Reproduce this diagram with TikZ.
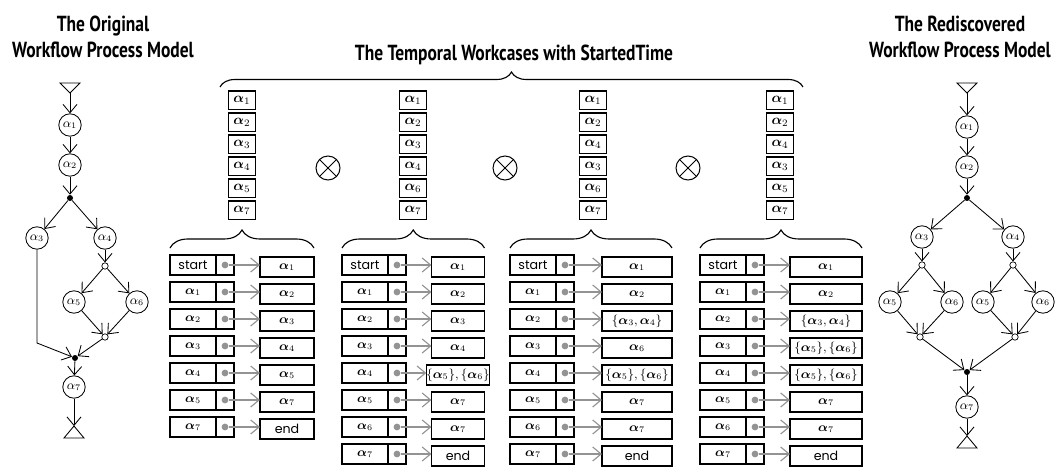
\documentclass[tikz,border=0pt]{standalone}
\usepackage{fontspec}
\usepackage{bm}
\setmainfont{PT Sans}
\newfontfamily\titlefont[FakeStretch=0.8]{PT Sans Bold}
\newfontfamily\cellfont{Poppins}
\usetikzlibrary{arrows.meta,positioning,decorations.pathreplacing}
\newcommand{\alp}[1]{$\bm{\alpha}_{#1}$}

\begin{document}
\begin{tikzpicture}[
    x=0.025cm, y=-0.025cm,
    >={Straight Barb[length=6pt,width=10pt]},
    title/.style={font=\titlefont\fontsize{15.5}{19}\selectfont, align=center},
    act/.style={draw, circle, line width=0.6pt, minimum size=0.56cm, inner sep=0pt, font=\small},
    andnode/.style={circle, fill=black, minimum size=0.15cm, inner sep=0pt},
    ornode/.style={circle, draw, fill=white, line width=0.5pt, minimum size=0.16cm, inner sep=0pt},
    flow/.style={->, line width=0.6pt},
    stack/.style={draw, line width=1pt, minimum width=0.675cm, minimum height=0.46cm, inner sep=0pt, font=\fontsize{10}{11}\selectfont},
    prod/.style={draw, circle, line width=0.7pt, minimum size=0.6cm, inner sep=0pt},
    cell/.style={draw, line width=0.8pt, minimum width=#1, minimum height=0.5cm, inner sep=0pt, outer sep=0pt, font=\cellfont\fontsize{9}{10}\selectfont},
    cell/.default=1.15cm,
    pin/.style={circle, fill=gray!85, minimum size=0.17cm, inner sep=0pt},
    link/.style={->, gray!85, line width=0.8pt},
    grp/.style={decorate, decoration={brace, amplitude=#1}, line width=0.8pt}
  ]
    \useasboundingbox (0,0) rectangle (1055,467);

    % titles
    \node[title] (lefttitle) at (103,37) {The Original\\Workflow Process Model};
    \node[title] (righttitle) at (960,37) {The Rediscovered\\Workflow Process Model};
    \node[title] (midtitle) at (514,55) {The Temporal Workcases with StartedTime};

    % the original model
    \coordinate (ltop) at (70,93);
    \draw[line width=0.6pt] (ltop) -- ++(-10,-10) -- ++(20,0) -- cycle;
    \node[act] (la1) at (70,125) {$\alpha_1$};
    \node[act] (la2) at (70,165) {$\alpha_2$};
    \node[andnode] (lj1) at (70,198) {};
    \node[act] (la3) at (37,238) {$\alpha_3$};
    \node[act] (la4) at (105,238) {$\alpha_4$};
    \node[ornode] (lo1) at (105,266) {};
    \node[act] (la5) at (74,302) {$\alpha_5$};
    \node[act] (la6) at (137,302) {$\alpha_6$};
    \node[ornode] (lo2) at (105,337) {};
    \node[andnode] (lj2) at (75,358) {};
    \node[act] (la7) at (74,387) {$\alpha_7$};
    \coordinate (lend) at (74,426);
    \draw[line width=0.6pt] (lend) -- ++(-10,12) -- ++(20,0) -- cycle;
    \coordinate (lbend) at (37,343);

    \draw[flow] (ltop) -- (la1);
    \draw[flow] (la1) -- (la2);
    \draw[flow] (la2) -- (lj1);
    \draw[flow] (lj1) -- (la3);
    \draw[flow] (lj1) -- (la4);
    \draw[flow] (la4) -- (lo1);
    \draw[flow] (lo1) -- (la5);
    \draw[flow] (lo1) -- (la6);
    \draw[flow] (la5) -- (lo2);
    \draw[flow] (la6) -- (lo2);
    \draw[flow] (lo2) -- (lj2);
    \draw[flow] (la3) -- (lbend) -- (lj2);
    \draw[flow] (lj2) -- (la7);
    \draw[flow] (la7) -- (lend);

    % the rediscovered model
    \coordinate (rtop) at (967,93);
    \draw[line width=0.6pt] (rtop) -- ++(-10,-10) -- ++(20,0) -- cycle;
    \node[act] (ra1) at (967,127) {$\alpha_1$};
    \node[act] (ra2) at (967,167) {$\alpha_2$};
    \node[andnode] (rj1) at (967,198) {};
    \node[act] (ra3) at (922,237) {$\alpha_3$};
    \node[act] (ra4) at (1013,237) {$\alpha_4$};
    \node[ornode] (ro1) at (922,265) {};
    \node[ornode] (ro2) at (1013,265) {};
    \node[act] (ra5) at (890,302) {$\alpha_5$};
    \node[act] (ra6) at (952,302) {$\alpha_6$};
    \node[act] (rb5) at (983,302) {$\alpha_5$};
    \node[act] (rb6) at (1043,302) {$\alpha_6$};
    \node[ornode] (ro3) at (920,337) {};
    \node[ornode] (ro4) at (1015,337) {};
    \node[andnode] (rj2) at (967,372) {};
    \node[act] (ra7) at (967,407) {$\alpha_7$};
    \coordinate (rend) at (967,436);
    \draw[line width=0.6pt] (rend) -- ++(-10,12) -- ++(20,0) -- cycle;

    \draw[flow] (rtop) -- (ra1);
    \draw[flow] (ra1) -- (ra2);
    \draw[flow] (ra2) -- (rj1);
    \draw[flow] (rj1) -- (ra3);
    \draw[flow] (rj1) -- (ra4);
    \draw[flow] (ra3) -- (ro1);
    \draw[flow] (ra4) -- (ro2);
    \draw[flow] (ro1) -- (ra5);
    \draw[flow] (ro1) -- (ra6);
    \draw[flow] (ro2) -- (rb5);
    \draw[flow] (ro2) -- (rb6);
    \draw[flow] (ra5) -- (ro3);
    \draw[flow] (ra6) -- (ro3);
    \draw[flow] (rb5) -- (ro4);
    \draw[flow] (rb6) -- (ro4);
    \draw[flow] (ro3) -- (rj2);
    \draw[flow] (ro4) -- (rj2);
    \draw[flow] (rj2) -- (ra7);
    \draw[flow] (ra7) -- (rend);

    % temporal workcases
    \draw[grp=0.375cm] (220,87) -- (803,87);
    \foreach \c/\x/\list in {1/242/{1,2,3,4,5,7}, 2/413/{1,2,3,4,6,7}, 3/593/{1,2,4,3,6,7}, 4/780/{1,2,4,3,5,7}} {
      \foreach \k [count=\n] in \list {
        \node[stack] (s\c-\n) at (\x,{78+22*\n}) {\alp{\k}};
      }
    }
    \foreach \p/\x in {1/328, 2/505, 3/688} {
      \node[prod] (x\p) at (\x,168) {};
      \draw[line width=0.7pt] (x\p.45) -- (x\p.225) (x\p.135) -- (x\p.315);
    }

    % workcase 1
    \foreach \i/\src/\dst in {1/start/\alp1, 2/\alp1/\alp2, 3/\alp2/\alp3, 4/\alp3/\alp4, 5/\alp4/\alp5, 6/\alp5/\alp7, 7/\alp7/end} {
      \node[cell] (t1l\i) at (193,{238+27*\i}) {\src};
      \node[cell=0.45cm, right=0pt of t1l\i] (t1d\i) {};
      \node[pin] (t1p\i) at (t1d\i) {};
      \node[cell=1.35cm] (t1r\i) at (287,{240+27*\i}) {\dst};
      \draw[link] (t1p\i) -- (t1p\i -| t1r\i.west);
    }
    \draw[grp=0.45cm] ([yshift=0.175cm]t1l1.north west) -- ([yshift=0.175cm]t1l1.north west -| t1r1.east);

    % workcase 2
    \foreach \i/\src/\dst in {1/start/\alp1, 2/\alp1/\alp2, 3/\alp2/\alp3, 4/\alp3/\alp4, 5/\alp4/{$\{\bm{\alpha}_5\},\{\bm{\alpha}_6\}$}, 6/\alp5/\alp7, 7/\alp6/\alp7, 8/\alp7/end} {
      \node[cell] (t2l\i) at (365,{238+27*\i}) {\src};
      \node[cell=0.45cm, right=0pt of t2l\i] (t2d\i) {};
      \node[pin] (t2p\i) at (t2d\i) {};
      \node[cell=1.325cm] (t2r\i) at (458,{240+27*\i}) {\dst};
      \draw[link] (t2p\i) -- (t2p\i -| t2r\i.west);
    }
    \draw[grp=0.45cm] ([yshift=0.175cm]t2l1.north west) -- ([yshift=0.175cm]t2l1.north west -| t2r1.east);

    % workcase 3
    \foreach \i/\src/\dst in {1/start/\alp1, 2/\alp1/\alp2, 3/\alp2/{$\{\bm{\alpha}_3,\bm{\alpha}_4\}$}, 4/\alp3/\alp6, 5/\alp4/{$\{\bm{\alpha}_5\},\{\bm{\alpha}_6\}$}, 6/\alp5/\alp7, 7/\alp6/\alp7, 8/\alp7/end} {
      \node[cell] (t3l\i) at (533,{238+27*\i}) {\src};
      \node[cell=0.45cm, right=0pt of t3l\i] (t3d\i) {};
      \node[pin] (t3p\i) at (t3d\i) {};
      \node[cell=1.75cm] (t3r\i) at (637,{240+27*\i}) {\dst};
      \draw[link] (t3p\i) -- (t3p\i -| t3r\i.west);
    }
    \draw[grp=0.45cm] ([yshift=0.175cm]t3l1.north west) -- ([yshift=0.175cm]t3l1.north west -| t3r1.east);

    % workcase 4
    \foreach \i/\src/\dst in {1/start/\alp1, 2/\alp1/\alp2, 3/\alp2/{$\{\bm{\alpha}_3,\bm{\alpha}_4\}$}, 4/\alp3/{$\{\bm{\alpha}_5\},\{\bm{\alpha}_6\}$}, 5/\alp4/{$\{\bm{\alpha}_5\},\{\bm{\alpha}_6\}$}, 6/\alp5/\alp7, 7/\alp6/\alp7, 8/\alp7/end} {
      \node[cell] (t4l\i) at (723,{238+27*\i}) {\src};
      \node[cell=0.45cm, right=0pt of t4l\i] (t4d\i) {};
      \node[pin] (t4p\i) at (t4d\i) {};
      \node[cell=1.8cm] (t4r\i) at (826,{240+27*\i}) {\dst};
      \draw[link] (t4p\i) -- (t4p\i -| t4r\i.west);
    }
    \draw[grp=0.45cm] ([yshift=0.175cm]t4l1.north west) -- ([yshift=0.175cm]t4l1.north west -| t4r1.east);
  \end{tikzpicture}
\end{document}
